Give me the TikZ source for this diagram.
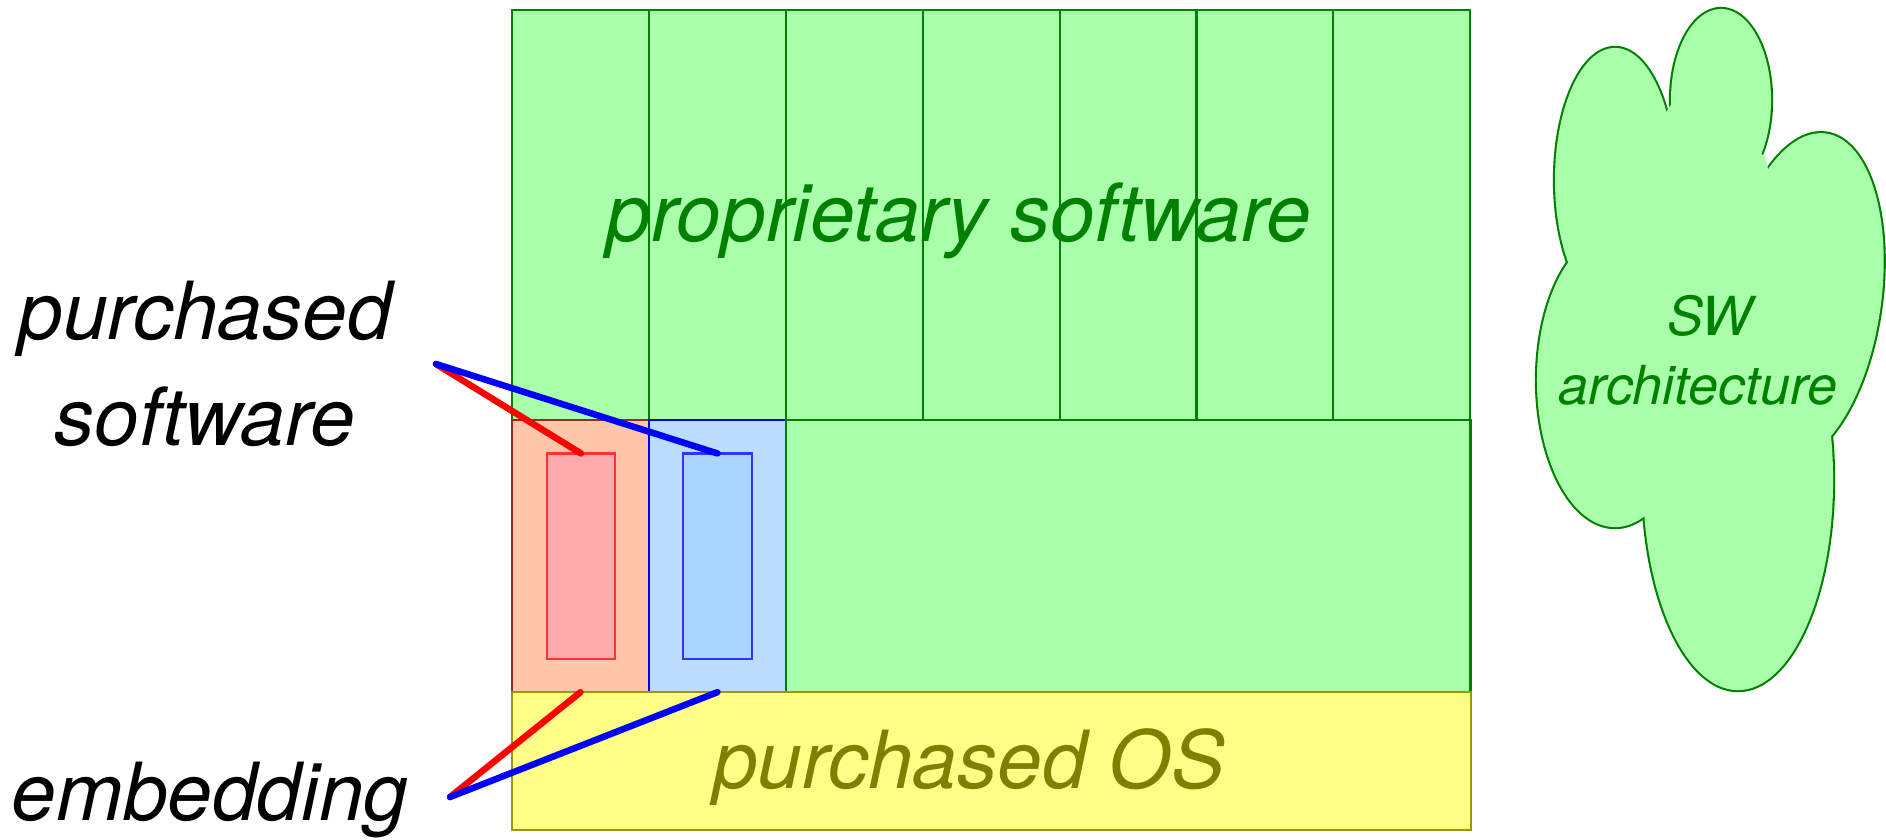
\documentclass[tikz,border=0pt]{standalone}
\usepackage{fontspec}
\setmainfont{TeX Gyre Heros}
\usetikzlibrary{positioning}
\definecolor{propgreen}{HTML}{AAFFAA}
\definecolor{propline}{HTML}{008000}
\definecolor{osyellow}{HTML}{FFFF88}
\definecolor{osline}{HTML}{9A9A00}
\definecolor{ostext}{HTML}{808000}
\definecolor{buyred}{HTML}{FFC6AA}
\definecolor{buyredline}{HTML}{A02828}
\definecolor{buyblue}{HTML}{BBDDFF}
\definecolor{embred}{HTML}{FFAAAA}
\definecolor{embblue}{HTML}{AAD5FF}
\tikzset{
    blk/.style={draw, inner sep=0pt, outer sep=0pt, line width=0.6pt},
    propbox/.style={blk, fill=propgreen, draw=propline},
    bigtext/.style={inner sep=0pt, font=\fontsize{22.8}{30}\selectfont\itshape},
    link/.style={line width=0.065cm, line cap=round},
}

\begin{document}
\begin{tikzpicture}[x=0.01cm, y=-0.01cm]
            \useasboundingbox (0,0) rectangle (1886,839);
            % top row: seven columns
            \foreach \i in {0,...,6}{
                \node[propbox, anchor=north west, minimum width=1.369cm, minimum height=4.1cm] (prop\i) at (512+136.9*\i,10) {};
            }
            % middle row
            \node[blk, fill=buyred, draw=buyredline, anchor=north west, minimum width=1.369cm, minimum height=2.72cm] (redblk) at (512,420) {};
            \node[blk, fill=buyblue, draw=blue, minimum width=1.369cm, minimum height=2.72cm, right=0pt of redblk] (blueblk) {};
            \node[propbox, minimum width=6.841cm, minimum height=2.72cm, right=0pt of blueblk] (restblk) {};
            \node[blk, fill=embred, draw=red!80, minimum width=0.686cm, minimum height=2.05cm] (embred) at (581,556) {};
            \node[blk, fill=embblue, draw=blue!80, minimum width=0.686cm, minimum height=2.05cm] (embblue) at (717.5,556) {};
            % bottom row
            \node[blk, fill=osyellow, draw=osline, anchor=north west, minimum width=9.58cm, minimum height=1.38cm] (os) at (512,692) {};
            \node[bigtext, text=propline, anchor=base] (proptext) at (959,241) {proprietary software};
            \node[bigtext, text=ostext, anchor=base] (ostext) at (969,788) {purchased OS};
            % cloud
            \foreach \pass in {1,2}{
                \begin{scope}[fill=propgreen, draw=propline, line width=1.2pt]
                    \ifnum\pass=1 \tikzset{every path/.style={draw}}\fi
                    \path[fill] (1721,100) ellipse [x radius=0.5cm, y radius=0.91cm];
                    \path[fill] (1615,180) ellipse [x radius=0.6cm, y radius=1.32cm];
                    \path[fill] (1615,380) ellipse [x radius=0.78cm, y radius=1.47cm];
                    \path[fill] (1738,480) ellipse [x radius=0.95cm, y radius=2.1cm];
                    \path[fill] (1803,298) circle [x radius=0.78cm, y radius=1.66cm, rotate=-8];
                \end{scope}
            }
            \fill[propgreen] (1672,103) -- (1572,257) -- (1647,507) -- (1828,433) -- (1765,156) -- cycle;
            \node[inner sep=0pt, align=center, text=propline, font=\fontsize{15.3}{19.6}\selectfont\itshape] (swarch) at (1698,350) {\hspace*{0.24cm}SW\\architecture};
            % labels and links
            \node[bigtext, align=center] (buysw) at (205,364) {purchased\\software};
            \node[bigtext, anchor=base] (embed) at (210,820) {embedding};
            \coordinate (buypt) at (436,364);
            \coordinate (embpt) at (450,797);
            \draw[link, red] (buypt)--(embred.north);
            \draw[link, blue] (buypt)--(embblue.north);
            \draw[link, red] (embpt)--(redblk.south);
            \draw[link, blue] (embpt)--(blueblk.south);
        \end{tikzpicture}
\end{document}
